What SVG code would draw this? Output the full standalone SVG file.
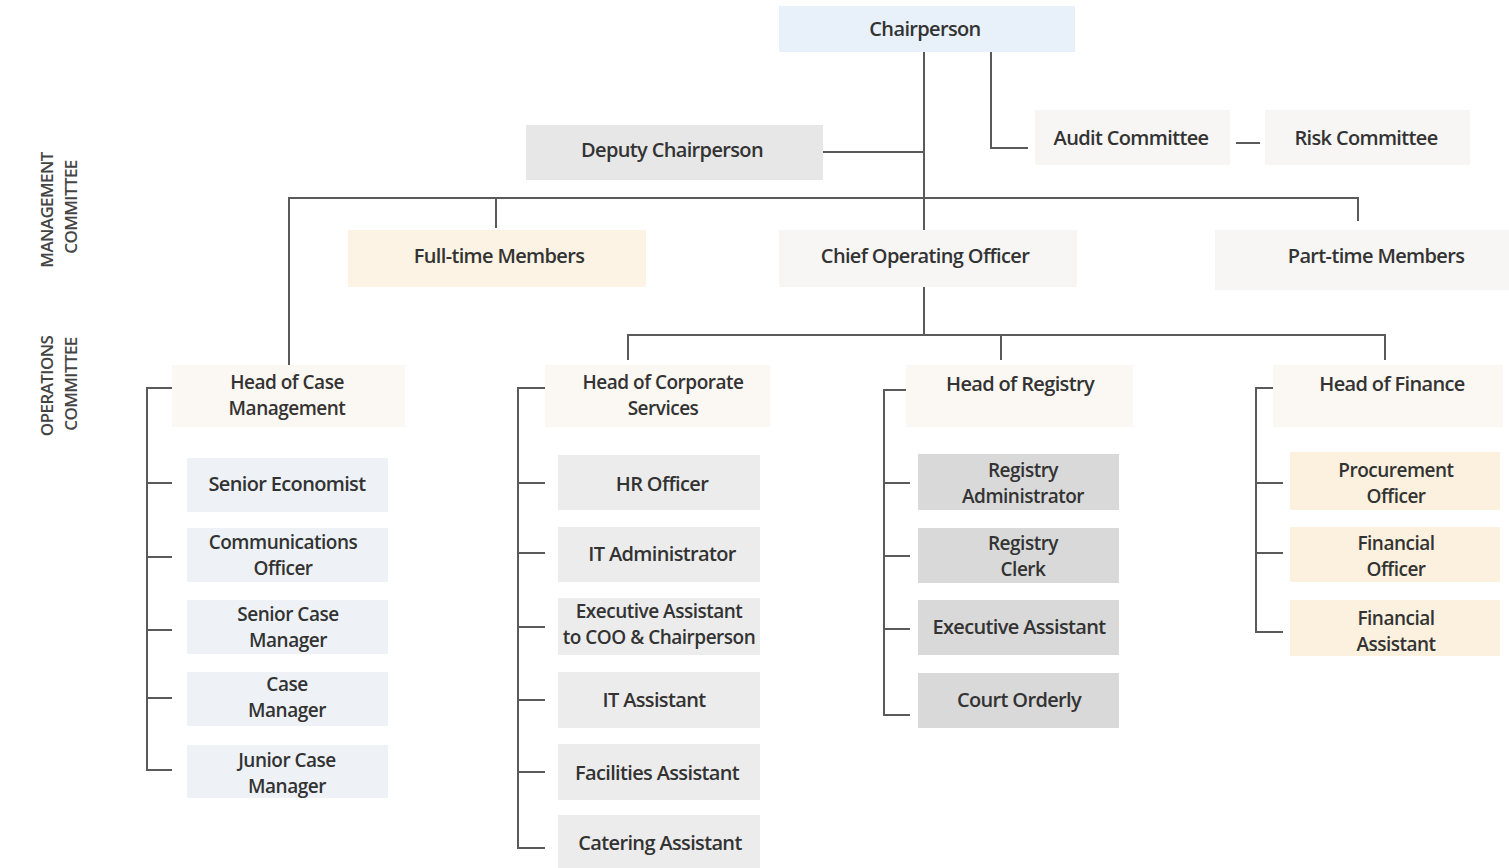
<svg xmlns="http://www.w3.org/2000/svg" width="1509" height="868" viewBox="0 0 1509 868">
<style>
text{font-family:"Open Sans","Liberation Sans",sans-serif;font-size:20px;font-weight:600;fill:#333333;text-anchor:middle;letter-spacing:-0.65px}
text.two{font-size:19px;letter-spacing:-0.5px}
.side{font-size:17px;fill:#444444;letter-spacing:-0.6px}
.c{fill:none;stroke:#5a5a5a;stroke-width:2}
.blue{fill:#e8f0f9}
.grey{fill:#e7e7e7}
.faint{fill:#f7f6f5}
.peach{fill:#fcf3e4}
.head{fill:#fbf7f2}
.lb{fill:#eef2f6}
.lg{fill:#ececec}
.dg{fill:#d9d9d9}
.fin{fill:#fbf1de}
</style>
<rect width="1509" height="868" fill="#ffffff"/>
<g id="labels">
<text class="side" transform="translate(53,210) rotate(-90)">MANAGEMENT</text>
<text class="side" transform="translate(77,207) rotate(-90)">COMMITTEE</text>
<text class="side" transform="translate(53,386) rotate(-90)">OPERATIONS</text>
<text class="side" transform="translate(77,384) rotate(-90)">COMMITTEE</text>
</g>
<g id="connectors">
<path class="c" d="M924 52V335"/>
<path class="c" d="M991 52V148H1028"/>
<path class="c" d="M1236 143H1260"/>
<path class="c" d="M823 152H924"/>
<path class="c" d="M289 367V198H1358V221"/>
<path class="c" d="M496 198V228"/>
<path class="c" d="M628 360V335H1385V360"/>
<path class="c" d="M1001 335V360"/>
<path class="c" d="M172 388H147V770H172M147 483H172M147 557H172M147 630H172M147 698H172"/>
<path class="c" d="M545 388H518V848H545M518 483H545M518 553H545M518 627H545M518 700H545M518 772H545"/>
<path class="c" d="M910 390H884V715H910M884 483H910M884 556H910M884 629H910"/>
<path class="c" d="M1283 388H1256V632H1283M1256 483H1283M1256 553H1283"/>
</g>
<g id="chairperson"><rect class="blue" x="779" y="6" width="296" height="46"/><text x="925" y="36">Chairperson</text></g>
<g id="deputy"><rect class="grey" x="526" y="125" width="297" height="55"/><text x="672" y="157">Deputy Chairperson</text></g>
<g id="audit"><rect class="faint" x="1035" y="110" width="195" height="55"/><text x="1131" y="145">Audit Committee</text></g>
<g id="risk"><rect class="faint" x="1265" y="110" width="205" height="55"/><text x="1366" y="145">Risk Committee</text></g>
<g id="fulltime"><rect class="peach" x="348" y="230" width="298" height="57"/><text x="499" y="263">Full-time Members</text></g>
<g id="coo"><rect class="faint" x="779" y="230" width="298" height="57"/><text x="925" y="263">Chief Operating Officer</text></g>
<g id="parttime"><rect class="faint" x="1215" y="230" width="294" height="60"/><text x="1376" y="263">Part-time Members</text></g>
<g id="head-case"><rect class="head" x="172" y="365" width="233" height="62"/><text class="two" x="287" y="389">Head of Case</text><text class="two" x="287" y="415">Management</text></g>
<g id="head-corp"><rect class="head" x="545" y="365" width="225" height="62"/><text class="two" x="663" y="389">Head of Corporate</text><text class="two" x="663" y="415">Services</text></g>
<g id="head-registry"><rect class="head" x="906" y="365" width="227" height="62"/><text x="1020" y="391">Head of Registry</text></g>
<g id="head-finance"><rect class="head" x="1273" y="365" width="230" height="62"/><text x="1392" y="391">Head of Finance</text></g>
<g id="senior-economist"><rect class="lb" x="187" y="458" width="201" height="54"/><text x="287" y="491">Senior Economist</text></g>
<g id="comms-officer"><rect class="lb" x="187" y="528" width="201" height="54"/><text class="two" x="283" y="549">Communications</text><text class="two" x="283" y="575">Officer</text></g>
<g id="senior-case"><rect class="lb" x="187" y="600" width="201" height="54"/><text class="two" x="288" y="621">Senior Case</text><text class="two" x="288" y="647">Manager</text></g>
<g id="case-manager"><rect class="lb" x="187" y="672" width="201" height="54"/><text class="two" x="287" y="691">Case</text><text class="two" x="287" y="717">Manager</text></g>
<g id="junior-case"><rect class="lb" x="187" y="745" width="201" height="53"/><text class="two" x="287" y="767">Junior Case</text><text class="two" x="287" y="793">Manager</text></g>
<g id="hr-officer"><rect class="lg" x="558" y="455" width="202" height="55"/><text x="662" y="491">HR Officer</text></g>
<g id="it-admin"><rect class="lg" x="558" y="527" width="202" height="55"/><text x="662" y="561">IT Administrator</text></g>
<g id="exec-assist-coo"><rect class="lg" x="558" y="598" width="202" height="57"/><text class="two" x="659" y="618">Executive Assistant</text><text class="two" x="659" y="644">to COO &amp; Chairperson</text></g>
<g id="it-assist"><rect class="lg" x="558" y="672" width="202" height="56"/><text x="654" y="707">IT Assistant</text></g>
<g id="facilities"><rect class="lg" x="558" y="744" width="202" height="56"/><text x="657" y="780">Facilities Assistant</text></g>
<g id="catering"><rect class="lg" x="558" y="815" width="202" height="53"/><text x="660" y="850">Catering Assistant</text></g>
<g id="registry-admin"><rect class="dg" x="918" y="454" width="201" height="56"/><text class="two" x="1023" y="477">Registry</text><text class="two" x="1023" y="503">Administrator</text></g>
<g id="registry-clerk"><rect class="dg" x="918" y="528" width="201" height="55"/><text class="two" x="1023" y="550">Registry</text><text class="two" x="1023" y="576">Clerk</text></g>
<g id="exec-assist"><rect class="dg" x="918" y="600" width="201" height="55"/><text x="1019" y="634">Executive Assistant</text></g>
<g id="court-orderly"><rect class="dg" x="918" y="673" width="201" height="55"/><text x="1019" y="707">Court Orderly</text></g>
<g id="procurement"><rect class="fin" x="1290" y="452" width="210" height="58"/><text class="two" x="1396" y="477">Procurement</text><text class="two" x="1396" y="503">Officer</text></g>
<g id="financial-officer"><rect class="fin" x="1290" y="527" width="210" height="55"/><text class="two" x="1396" y="550">Financial</text><text class="two" x="1396" y="576">Officer</text></g>
<g id="financial-assistant"><rect class="fin" x="1290" y="600" width="210" height="56"/><text class="two" x="1396" y="625">Financial</text><text class="two" x="1396" y="651">Assistant</text></g>
</svg>
